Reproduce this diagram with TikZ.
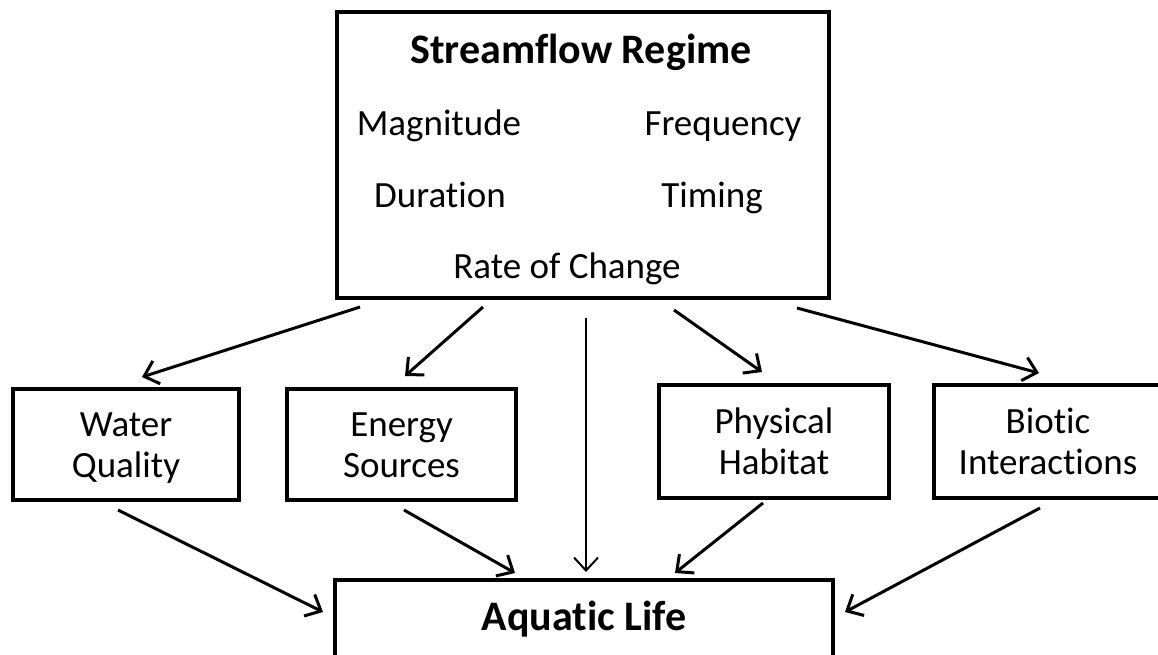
\documentclass[tikz,border=0pt]{standalone}
\usepackage{fontspec}
\setmainfont[Ligatures=NoCommon]{Carlito}
\usetikzlibrary{arrows.meta}
\tikzset{
  regimebox/.style={rectangle,draw,line width=4pt,minimum width=492pt,minimum height=286pt},
  factorbox/.style={rectangle,draw,line width=4pt,align=center,text height=66pt,text depth=1pt,font=\fontsize{37}{41}\selectfont},
  lifebox/.style={rectangle,draw,line width=4pt,minimum width=498pt,minimum height=78pt,font=\bfseries\fontsize{42}{48}\selectfont},
  titletext/.style={anchor=base,inner sep=0pt,font=\bfseries\fontsize{42}{48}\selectfont},
  itemtext/.style={anchor=base,inner sep=0pt,font=\fontsize{37}{41}\selectfont},
  flowarrow/.style={-{Straight Barb[length=13pt,width=24pt]},line width=3pt},
  thinarrow/.style={-{Straight Barb[length=13pt,width=24pt]},line width=2pt}
}

\begin{document}
\begin{tikzpicture}[x=1pt,y=-1pt]
  \useasboundingbox (0,0) rectangle (1158,654);
  \clip (0,0) rectangle (1158,654);
  % regime box and its items
  \node[regimebox] (sfr) at (583,155) {};
  \node[titletext] (title) at (581,63) {Streamflow Regime};
  \node[itemtext] (mag) at (439,135) {Magnitude};
  \node[itemtext] (freq) at (723,135) {Frequency};
  \node[itemtext] (dur) at (440,207) {Duration};
  \node[itemtext] (tim) at (712,207) {Timing};
  \node[itemtext] (roc) at (567,278) {Rate of Change};
  % factors
  \node[factorbox,minimum width=226pt,minimum height=111pt] (wq) at (126,444.5) {Water\\Quality};
  \node[factorbox,minimum width=229pt,minimum height=111pt] (es) at (401.5,444.5) {Energy\\Sources};
  \node[factorbox,minimum width=230pt,minimum height=113pt] (ph) at (774,441.5) {Physical\\Habitat};
  \node[factorbox,minimum width=228pt,minimum height=113pt] (bi) at (1048,441.5) {Biotic\\Interactions};
  \node[lifebox] (al) at (584,619) {Aquatic Life};
  % regime to factors
  \draw[flowarrow] ([shift={(-223,7)}]sfr.south) -- ([shift={(16,-10)}]wq.north);
  \draw[flowarrow] ([shift={(-100,7)}]sfr.south) -- ([shift={(3.5,-11)}]es.north);
  \draw[thinarrow] ([shift={(3,18)}]sfr.south) -- ([shift={(2,-6)}]al.north);
  \draw[flowarrow] ([shift={(91,10)}]sfr.south) -- ([shift={(-12,-11)}]ph.north);
  \draw[flowarrow] ([shift={(214,8)}]sfr.south) -- ([shift={(-9,-10)}]bi.north);
  % factors to aquatic life
  \draw[flowarrow] ([shift={(-8,8)}]wq.south) -- ([shift={(-10,-7)}]al.west);
  \draw[flowarrow] ([shift={(2.5,8)}]es.south) -- ([shift={(-69,-5)}]al.north);
  \draw[flowarrow] ([shift={(-11,3)}]ph.south) -- ([shift={(91,-5)}]al.north);
  \draw[flowarrow] ([shift={(-8,8)}]bi.south) -- ([shift={(10,-7)}]al.east);
\end{tikzpicture}
\end{document}
